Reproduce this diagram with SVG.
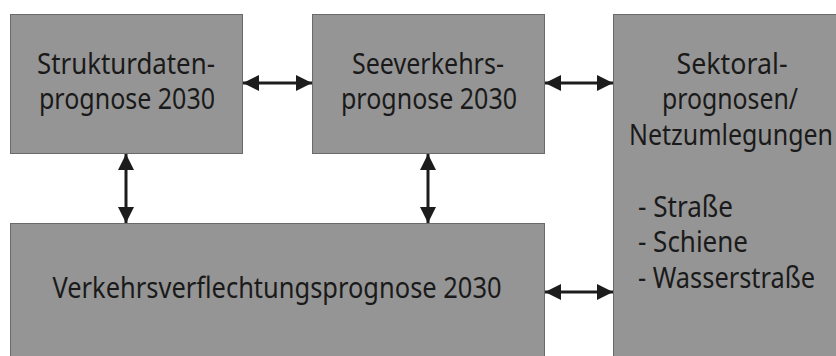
<svg xmlns="http://www.w3.org/2000/svg" width="836" height="356" viewBox="0 0 836 356">
<style>
.box{fill:#959595;stroke:#6a6a6a;stroke-width:1}
.t{font-family:"Noto Sans","Open Sans",sans-serif;font-size:29px;fill:#1a1a1a}
.c{text-anchor:middle}
.con{stroke:#1c1c1c;stroke-width:3;fill:none;marker-start:url(#ah);marker-end:url(#ah)}
</style>
<defs>
<marker id="ah" viewBox="0 0 16 16" refX="16" refY="8" markerWidth="16" markerHeight="16" markerUnits="userSpaceOnUse" orient="auto-start-reverse">
<path d="M0,0 L16,8 L0,16 z" fill="#1c1c1c"/>
</marker>
</defs>
<rect width="836" height="356" fill="#ffffff"/>
<g id="strukturdaten">
<rect class="box" x="10.5" y="14.5" width="232" height="139"/>
<text class="t c" x="126" y="74" textLength="178" lengthAdjust="spacingAndGlyphs">Strukturdaten-</text>
<text class="t c" x="127" y="109" textLength="176" lengthAdjust="spacingAndGlyphs">prognose 2030</text>
</g>
<g id="seeverkehr">
<rect class="box" x="312.5" y="14.5" width="232" height="139"/>
<text class="t c" x="428" y="74" textLength="152" lengthAdjust="spacingAndGlyphs">Seeverkehrs-</text>
<text class="t c" x="429" y="109" textLength="176" lengthAdjust="spacingAndGlyphs">prognose 2030</text>
</g>
<g id="sektoral">
<rect class="box" x="613.5" y="14.5" width="230" height="350"/>
<text class="t c" x="732" y="74" textLength="111" lengthAdjust="spacingAndGlyphs">Sektoral-</text>
<text class="t c" x="730" y="109" textLength="136" lengthAdjust="spacingAndGlyphs">prognosen/</text>
<text class="t c" x="731" y="145" textLength="204" lengthAdjust="spacingAndGlyphs">Netzumlegungen</text>
<text class="t" x="638" y="217" textLength="95" lengthAdjust="spacingAndGlyphs">- Straße</text>
<text class="t" x="638" y="252" textLength="110" lengthAdjust="spacingAndGlyphs">- Schiene</text>
<text class="t" x="638" y="288" textLength="177" lengthAdjust="spacingAndGlyphs">- Wasserstraße</text>
</g>
<g id="verflechtung">
<rect class="box" x="10.5" y="223.5" width="534" height="150"/>
<text class="t c" x="277" y="298" textLength="449" lengthAdjust="spacingAndGlyphs">Verkehrsverflechtungsprognose 2030</text>
</g>
<g id="connectors">
<line class="con" x1="243" y1="83" x2="312" y2="83"/>
<line class="con" x1="545" y1="83" x2="613" y2="83"/>
<line class="con" x1="126" y1="154" x2="126" y2="223"/>
<line class="con" x1="428" y1="154" x2="428" y2="223"/>
<line class="con" x1="545" y1="292" x2="613" y2="292"/>
</g>
</svg>
